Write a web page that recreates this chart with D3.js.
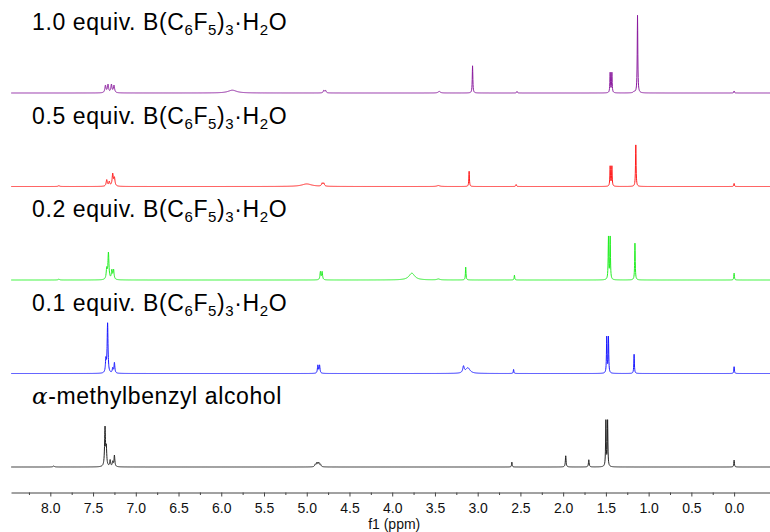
<!DOCTYPE html>
<html>
<head>
<meta charset="utf-8">
<script src="https://cdn.jsdelivr.net/npm/d3@7"></script>
<style>
  body { margin: 0; background: #fff; }
  svg { display: block; font-family: "Liberation Sans", Arial, sans-serif; }
</style>
</head>
<body>
<div id="chart"></div>
<script>
// stacked 1H NMR spectra, top to bottom
var samples = ["1.0", "0.5", "0.2", "0.1", "alcohol"];
var colors = ["#8a1a9e", "#ff1a1a", "#22ee22", "#1a1aff", "#222222"];

// peaks: [ppm, intensity, half width (ppm)]
var peaks10 = [
    [7.355, 9, 0.008], [7.325, 10, 0.008], [7.285, 10, 0.008], [7.255, 9, 0.008],
    [5.87, 3.5, 0.06],
    [4.80, 3, 0.008], [4.78, 3, 0.008],
    [3.45, 2, 0.015],
    [3.06, 34, 0.004],
    [2.54, 2, 0.005],
    [1.45, 25, 0.004], [1.43, 25, 0.004],
    [1.17, 1.5, 0.01],
    [1.13, 97, 0.004],
    [0.0, 2.5, 0.004]
];
var peaks05 = [
    [7.90, 1, 0.01],
    [7.34, 8, 0.008], [7.31, 5.5, 0.008], [7.27, 15, 0.008], [7.25, 10, 0.008],
    [5.00, 3.2, 0.07],
    [4.82, 3.8, 0.008], [4.80, 3.8, 0.008],
    [3.46, 1.2, 0.02],
    [3.10, 19, 0.004],
    [2.55, 2.5, 0.005],
    [1.45, 25, 0.004], [1.43, 25, 0.004],
    [1.15, 52, 0.004],
    [0.0, 3.8, 0.004]
];
var peaks02 = [
    [7.90, 1, 0.01],
    [7.34, 13, 0.007], [7.32, 33, 0.007], [7.28, 11, 0.007], [7.26, 12, 0.007],
    [4.84, 10, 0.006], [4.82, 10, 0.006],
    [3.77, 8.5, 0.04],
    [3.46, 1.2, 0.02],
    [3.14, 16, 0.004],
    [2.57, 6, 0.004],
    [1.47, 53, 0.004], [1.45, 53, 0.004],
    [1.16, 46, 0.004],
    [0.0, 8.5, 0.004]
];
var peaks01 = [
    [7.35, 16, 0.006], [7.33, 62, 0.006], [7.27, 6, 0.006], [7.25, 13, 0.006],
    [4.87, 10, 0.006], [4.85, 10, 0.006],
    [3.166, 8, 0.01], [3.115, 7, 0.03],
    [2.58, 5, 0.004],
    [1.49, 45, 0.004], [1.47, 45, 0.004],
    [1.17, 24, 0.004],
    [0.0, 8.5, 0.004]
];
var peaksAlcohol = [
    [7.96, 1.2, 0.01],
    [7.36, 48, 0.006], [7.345, 22, 0.006], [7.30, 8, 0.006], [7.27, 6, 0.006], [7.25, 14, 0.006],
    [4.90, 3, 0.008], [4.88, 5, 0.008], [4.86, 5, 0.008], [4.84, 3, 0.008],
    [2.60, 6, 0.004],
    [1.97, 14, 0.005],
    [1.70, 9, 0.005],
    [1.50, 57, 0.004], [1.48, 57, 0.004],
    [0.0, 8.5, 0.004]
];
var peakLists = [peaks10, peaks05, peaks02, peaks01, peaksAlcohol];

var ppmTicks = d3.range(0, 8.01, 0.5);
var ppmMinor = d3.range(0.25, 8.3, 0.5);

var width = 770,
    height = 532;

var svg = d3.select("#chart")
    .append("svg")
    .attr("width", width)
    .attr("height", height);

var x = d3.scaleLinear()
    .domain([8.46, -0.42])
    .range([11, 770]);

// baseline of each trace
var yBase = d3.scalePoint()
    .domain(samples)
    .range([93, 467]);

var yInt = d3.scaleLinear()
    .domain([0, 100])
    .range([0, 80]);

// sampling grid, plus every peak centre so tops are not missed
var grid = d3.range(-0.42, 8.46, 0.002);
peakLists.forEach(function (list) {
    list.forEach(function (p) { grid.push(p[0], p[0] - p[2] / 2, p[0] + p[2] / 2); });
});
grid.sort(d3.ascending);

function spectrum(list) {
    return grid.map(function (v) {
        var s = 0;
        list.forEach(function (p) {
            var d = v - p[0];
            s += p[1] * p[2] * p[2] / (d * d + p[2] * p[2]);
        });
        return [v, s];
    });
}

samples.forEach(function (name, i) {
    var y0 = yBase(name);
    var line = d3.line()
        .x(function (d) { return x(d[0]); })
        .y(function (d) { return y0 - yInt(d[1]); });

    svg.append("path")
        .datum(spectrum(peakLists[i]))
        .attr("d", line)
        .style("fill", "none")
        .style("stroke", colors[i])
        .style("stroke-width", "1px");

    var label = svg.append("text")
        .attr("x", 32)
        .attr("y", y0 - 63)
        .style("font-size", "23px")
        .style("letter-spacing", "0.6px")
        .style("fill", "#000");

    if (name == "alcohol") {
        label.append("tspan")
            .style("font-family", "'DejaVu Serif', serif")
            .style("font-style", "italic")
            .text("\u03b1");
        label.append("tspan").text("-methylbenzyl alcohol");
    } else {
        label.append("tspan").text(name + " equiv. B(C");
        label.append("tspan").attr("dy", 5).style("font-size", "15px").text("6");
        label.append("tspan").attr("dy", -5).text("F");
        label.append("tspan").attr("dy", 5).style("font-size", "15px").text("5");
        label.append("tspan").attr("dy", -5).text(")");
        label.append("tspan").attr("dy", 5).style("font-size", "15px").text("3");
        label.append("tspan").attr("dy", -5).text("\u00b7H");
        label.append("tspan").attr("dy", 5).style("font-size", "15px").text("2");
        label.append("tspan").attr("dy", -5).text("O");
    }
});

// axis
var axisY = 492.5;

var axis = d3.axisBottom(x)
    .tickValues(ppmTicks)
    .tickFormat(d3.format(".1f"))
    .tickSizeInner(4)
    .tickSizeOuter(0)
    .tickPadding(7);

var gAxis = svg.append("g")
    .attr("transform", "translate(0," + axisY + ")")
    .call(axis);

gAxis.select(".domain").style("stroke", "#444");
gAxis.selectAll(".tick line").style("stroke", "#444");
gAxis.selectAll(".tick text")
    .style("font-family", "'Liberation Sans', Arial, sans-serif")
    .style("font-size", "14px")
    .style("fill", "#111");

gAxis.selectAll(".minor")
    .data(ppmMinor)
    .enter()
    .append("line")
    .attr("class", "minor")
    .attr("x1", function (d) { return x(d) + 0.5; })
    .attr("x2", function (d) { return x(d) + 0.5; })
    .attr("y1", 0)
    .attr("y2", 2.5)
    .style("stroke", "#444");

svg.append("text")
    .attr("x", x(4.0) + 2)
    .attr("y", 529)
    .attr("text-anchor", "middle")
    .style("font-size", "14px")
    .style("fill", "#111")
    .text("f1 (ppm)");
</script>
</body>
</html>
